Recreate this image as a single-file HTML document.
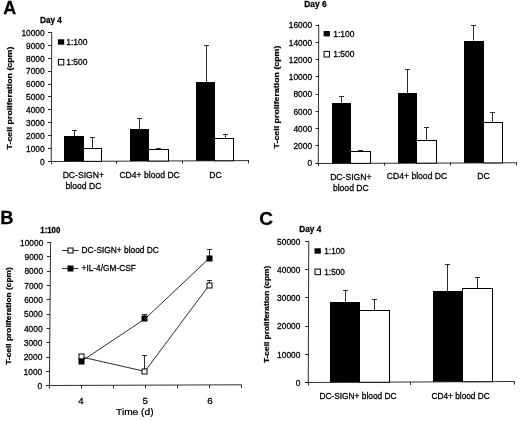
<!DOCTYPE html>
<html><head><meta charset="utf-8"><title>Figure</title>
<style>html,body{margin:0;padding:0;background:#fff;}body{width:520px;height:421px;overflow:hidden;}svg{display:block;font-family:"Liberation Sans",sans-serif;filter:blur(0.35px);}text{fill:#000;stroke:#000;stroke-width:0.26px;}line,polyline{stroke:#161616;stroke-width:0.9px;}</style></head><body>
<svg width="520" height="421" viewBox="0 0 520 421">
<rect x="0" y="0" width="520" height="421" fill="#fff"/>
<text transform="translate(3.3 13.7) scale(0.97 1)" font-size="18.5" font-weight="bold">A</text>
<text transform="translate(0.3 224.1) scale(1.04 1)" font-size="17.6" font-weight="bold">B</text>
<text transform="translate(259.2 224.7)" font-size="19" font-weight="bold">C</text>
<text font-size="8.2" font-weight="bold" text-anchor="start" transform="translate(40 22.5) scale(1 1.06)">Day 4</text>
<line x1="51.75" y1="32.00" x2="51.25" y2="161.80" stroke="#000" stroke-width="1"/>
<line x1="48.00" y1="161.50" x2="249.00" y2="160.60" stroke="#000" stroke-width="1"/>
<line x1="48.0" y1="161.5" x2="51.3" y2="161.5" stroke="#000" stroke-width="1"/>
<text font-size="8.4" text-anchor="end" transform="translate(44.7 164.62) scale(1 1.06)">0</text>
<line x1="48.0" y1="148.5" x2="51.3" y2="148.5" stroke="#000" stroke-width="1"/>
<text font-size="8.4" text-anchor="end" transform="translate(44.7 151.74) scale(1 1.06)">1000</text>
<line x1="48.0" y1="135.5" x2="51.3" y2="135.5" stroke="#000" stroke-width="1"/>
<text font-size="8.4" text-anchor="end" transform="translate(44.7 138.86) scale(1 1.06)">2000</text>
<line x1="48.0" y1="122.5" x2="51.3" y2="122.5" stroke="#000" stroke-width="1"/>
<text font-size="8.4" text-anchor="end" transform="translate(44.7 125.98) scale(1 1.06)">3000</text>
<line x1="48.0" y1="109.5" x2="51.3" y2="109.5" stroke="#000" stroke-width="1"/>
<text font-size="8.4" text-anchor="end" transform="translate(44.7 113.1) scale(1 1.06)">4000</text>
<line x1="48.0" y1="96.5" x2="51.3" y2="96.5" stroke="#000" stroke-width="1"/>
<text font-size="8.4" text-anchor="end" transform="translate(44.7 100.22) scale(1 1.06)">5000</text>
<line x1="48.0" y1="84.5" x2="51.3" y2="84.5" stroke="#000" stroke-width="1"/>
<text font-size="8.4" text-anchor="end" transform="translate(44.7 87.34) scale(1 1.06)">6000</text>
<line x1="48.0" y1="71.5" x2="51.3" y2="71.5" stroke="#000" stroke-width="1"/>
<text font-size="8.4" text-anchor="end" transform="translate(44.7 74.46) scale(1 1.06)">7000</text>
<line x1="48.0" y1="58.5" x2="51.3" y2="58.5" stroke="#000" stroke-width="1"/>
<text font-size="8.4" text-anchor="end" transform="translate(44.7 61.58) scale(1 1.06)">8000</text>
<line x1="48.0" y1="45.5" x2="51.3" y2="45.5" stroke="#000" stroke-width="1"/>
<text font-size="8.4" text-anchor="end" transform="translate(44.7 48.7) scale(1 1.06)">9000</text>
<line x1="48.0" y1="32.5" x2="51.3" y2="32.5" stroke="#000" stroke-width="1"/>
<text font-size="8.4" text-anchor="end" transform="translate(44.7 35.82) scale(1 1.06)">10000</text>
<line x1="51.5" y1="161.3" x2="51.5" y2="164.3" stroke="#000" stroke-width="1"/>
<line x1="116.5" y1="161.0" x2="116.5" y2="164.0" stroke="#000" stroke-width="1"/>
<line x1="182.5" y1="160.7" x2="182.5" y2="163.7" stroke="#000" stroke-width="1"/>
<line x1="248.5" y1="160.4" x2="248.5" y2="163.4" stroke="#000" stroke-width="1"/>
<line x1="74.5" y1="130.39" x2="74.5" y2="136.06" stroke="#000" stroke-width="1"/>
<line x1="72.0" y1="130.5" x2="77.0" y2="130.5" stroke="#000" stroke-width="1"/>
<line x1="92.5" y1="137.47" x2="92.5" y2="148.42" stroke="#000" stroke-width="1"/>
<line x1="90.0" y1="137.5" x2="95.0" y2="137.5" stroke="#000" stroke-width="1"/>
<rect x="64" y="136" width="20" height="25.36" fill="#000"/>
<rect x="83.5" y="148.5" width="18" height="12.86" fill="#fff" stroke="#000" stroke-width="1"/>
<line x1="139.5" y1="118.41" x2="139.5" y2="129.1" stroke="#000" stroke-width="1"/>
<line x1="137.0" y1="118.5" x2="142.0" y2="118.5" stroke="#000" stroke-width="1"/>
<line x1="158.5" y1="148.55" x2="158.5" y2="149.45" stroke="#000" stroke-width="1"/>
<line x1="156.0" y1="148.5" x2="161.0" y2="148.5" stroke="#000" stroke-width="1"/>
<rect x="130" y="129" width="19" height="32.05" fill="#000"/>
<rect x="148.5" y="149.5" width="20" height="11.55" fill="#fff" stroke="#000" stroke-width="1"/>
<line x1="206.5" y1="45.9" x2="206.5" y2="82.35" stroke="#000" stroke-width="1"/>
<line x1="204.0" y1="45.5" x2="209.0" y2="45.5" stroke="#000" stroke-width="1"/>
<line x1="225.5" y1="134.9" x2="225.5" y2="138.12" stroke="#000" stroke-width="1"/>
<line x1="223.0" y1="134.5" x2="228.0" y2="134.5" stroke="#000" stroke-width="1"/>
<rect x="196" y="82" width="19" height="78.75" fill="#000"/>
<rect x="214.5" y="138.5" width="19" height="22.25" fill="#fff" stroke="#000" stroke-width="1"/>
<rect x="57.9" y="39.30" width="6.3" height="5.4" fill="#000"/>
<text font-size="8.5" text-anchor="start" transform="translate(66.2 45.23) scale(1 1.06)">1:100</text>
<rect x="58.40" y="59.40" width="5.4" height="5.6" fill="#fff" stroke="#000" stroke-width="1"/>
<text font-size="8.5" text-anchor="start" transform="translate(66.2 65.43) scale(1 1.06)">1:500</text>
<text font-size="8.6" text-anchor="middle" transform="translate(83.3 177.9) scale(1 1.06)">DC-SIGN+</text>
<text font-size="8.6" text-anchor="middle" transform="translate(83.5 189.3) scale(1 1.06)">blood DC</text>
<text font-size="8.6" text-anchor="middle" transform="translate(149.6 177.9) scale(1 1.06)">CD4+ blood DC</text>
<text font-size="8.6" text-anchor="middle" transform="translate(215.4 177.9) scale(1 1.06)">DC</text>
<text font-size="8.82" font-weight="bold" text-anchor="middle" transform="translate(11.9 98) rotate(-90) scale(1 0.88)">T-cell proliferation (cpm)</text>
<text font-size="8.4" font-weight="bold" text-anchor="start" transform="translate(304.3 7.4) scale(1 1.06)">Day 6</text>
<line x1="318.75" y1="24.50" x2="318.25" y2="163.50" stroke="#000" stroke-width="1"/>
<line x1="315.60" y1="163.50" x2="517.00" y2="162.80" stroke="#000" stroke-width="1"/>
<line x1="315.6" y1="163.5" x2="318.9" y2="163.5" stroke="#000" stroke-width="1"/>
<text font-size="8.4" text-anchor="end" transform="translate(312.1 166.32) scale(1 1.06)">0</text>
<line x1="315.6" y1="145.5" x2="318.9" y2="145.5" stroke="#000" stroke-width="1"/>
<text font-size="8.4" text-anchor="end" transform="translate(312.1 149.07) scale(1 1.06)">2000</text>
<line x1="315.6" y1="128.5" x2="318.9" y2="128.5" stroke="#000" stroke-width="1"/>
<text font-size="8.4" text-anchor="end" transform="translate(312.1 131.82) scale(1 1.06)">4000</text>
<line x1="315.6" y1="111.5" x2="318.9" y2="111.5" stroke="#000" stroke-width="1"/>
<text font-size="8.4" text-anchor="end" transform="translate(312.1 114.57) scale(1 1.06)">6000</text>
<line x1="315.6" y1="94.5" x2="318.9" y2="94.5" stroke="#000" stroke-width="1"/>
<text font-size="8.4" text-anchor="end" transform="translate(312.1 97.32) scale(1 1.06)">8000</text>
<line x1="315.6" y1="76.5" x2="318.9" y2="76.5" stroke="#000" stroke-width="1"/>
<text font-size="8.4" text-anchor="end" transform="translate(312.1 80.07) scale(1 1.06)">10000</text>
<line x1="315.6" y1="59.5" x2="318.9" y2="59.5" stroke="#000" stroke-width="1"/>
<text font-size="8.4" text-anchor="end" transform="translate(312.1 62.82) scale(1 1.06)">12000</text>
<line x1="315.6" y1="42.5" x2="318.9" y2="42.5" stroke="#000" stroke-width="1"/>
<text font-size="8.4" text-anchor="end" transform="translate(312.1 45.57) scale(1 1.06)">14000</text>
<line x1="315.6" y1="25.5" x2="318.9" y2="25.5" stroke="#000" stroke-width="1"/>
<text font-size="8.4" text-anchor="end" transform="translate(312.1 28.32) scale(1 1.06)">16000</text>
<line x1="318.5" y1="163.0" x2="318.5" y2="166.0" stroke="#000" stroke-width="1"/>
<line x1="384.5" y1="162.77" x2="384.5" y2="165.77" stroke="#000" stroke-width="1"/>
<line x1="450.5" y1="162.54" x2="450.5" y2="165.54" stroke="#000" stroke-width="1"/>
<line x1="516.5" y1="162.3" x2="516.5" y2="165.3" stroke="#000" stroke-width="1"/>
<line x1="341.5" y1="96.16" x2="341.5" y2="102.62" stroke="#000" stroke-width="1"/>
<line x1="339.0" y1="96.5" x2="344.0" y2="96.5" stroke="#000" stroke-width="1"/>
<line x1="360.5" y1="150.75" x2="360.5" y2="151.79" stroke="#000" stroke-width="1"/>
<line x1="358.0" y1="150.5" x2="363.0" y2="150.5" stroke="#000" stroke-width="1"/>
<rect x="332" y="103" width="19" height="60.38" fill="#000"/>
<rect x="350.5" y="151.5" width="20" height="11.88" fill="#fff" stroke="#000" stroke-width="1"/>
<line x1="407.5" y1="69.25" x2="407.5" y2="93.14" stroke="#000" stroke-width="1"/>
<line x1="405.0" y1="69.5" x2="410.0" y2="69.5" stroke="#000" stroke-width="1"/>
<line x1="426.5" y1="127.64" x2="426.5" y2="140.32" stroke="#000" stroke-width="1"/>
<line x1="424.0" y1="127.5" x2="429.0" y2="127.5" stroke="#000" stroke-width="1"/>
<rect x="398" y="93" width="19" height="70.15" fill="#000"/>
<rect x="416.5" y="140.5" width="20" height="22.65" fill="#fff" stroke="#000" stroke-width="1"/>
<line x1="473.5" y1="25.43" x2="473.5" y2="40.52" stroke="#000" stroke-width="1"/>
<line x1="471.0" y1="25.5" x2="476.0" y2="25.5" stroke="#000" stroke-width="1"/>
<line x1="492.5" y1="112.89" x2="492.5" y2="122.12" stroke="#000" stroke-width="1"/>
<line x1="490.0" y1="112.5" x2="495.0" y2="112.5" stroke="#000" stroke-width="1"/>
<rect x="464" y="41" width="20" height="121.92" fill="#000"/>
<rect x="483.5" y="122.5" width="19" height="40.42" fill="#fff" stroke="#000" stroke-width="1"/>
<rect x="323.6" y="31.00" width="6.3" height="5.4" fill="#000"/>
<text font-size="8.5" text-anchor="start" transform="translate(333.2 36.93) scale(1 1.06)">1:100</text>
<rect x="324.10" y="51.40" width="5.4" height="5.6" fill="#fff" stroke="#000" stroke-width="1"/>
<text font-size="8.5" text-anchor="start" transform="translate(333.2 57.43) scale(1 1.06)">1:500</text>
<text font-size="8.6" text-anchor="middle" transform="translate(350.8 180) scale(1 1.06)">DC-SIGN+</text>
<text font-size="8.6" text-anchor="middle" transform="translate(350.8 191.1) scale(1 1.06)">blood DC</text>
<text font-size="8.6" text-anchor="middle" transform="translate(417 178.8) scale(1 1.06)">CD4+ blood DC</text>
<text font-size="8.6" text-anchor="middle" transform="translate(483.5 178.7) scale(1 1.06)">DC</text>
<text font-size="8.82" font-weight="bold" text-anchor="middle" transform="translate(278.7 97) rotate(-90) scale(1 0.88)">T-cell proliferation (cpm)</text>
<text font-size="8.25" font-weight="bold" text-anchor="start" transform="translate(299.3 232.4) scale(1 1.06)">Day 4</text>
<line x1="308.75" y1="240.90" x2="308.25" y2="383.00" stroke="#000" stroke-width="1"/>
<line x1="305.10" y1="382.50" x2="514.50" y2="381.50" stroke="#000" stroke-width="1"/>
<line x1="305.1" y1="382.5" x2="308.4" y2="382.5" stroke="#000" stroke-width="1"/>
<text font-size="8.4" text-anchor="end" transform="translate(300.4 385.82) scale(1 1.06)">0</text>
<line x1="305.1" y1="354.5" x2="308.4" y2="354.5" stroke="#000" stroke-width="1"/>
<text font-size="8.4" text-anchor="end" transform="translate(300.4 357.6) scale(1 1.06)">10000</text>
<line x1="305.1" y1="326.5" x2="308.4" y2="326.5" stroke="#000" stroke-width="1"/>
<text font-size="8.4" text-anchor="end" transform="translate(300.4 329.38) scale(1 1.06)">20000</text>
<line x1="305.1" y1="297.5" x2="308.4" y2="297.5" stroke="#000" stroke-width="1"/>
<text font-size="8.4" text-anchor="end" transform="translate(300.4 301.16) scale(1 1.06)">30000</text>
<line x1="305.1" y1="269.5" x2="308.4" y2="269.5" stroke="#000" stroke-width="1"/>
<text font-size="8.4" text-anchor="end" transform="translate(300.4 272.94) scale(1 1.06)">40000</text>
<line x1="305.1" y1="241.5" x2="308.4" y2="241.5" stroke="#000" stroke-width="1"/>
<text font-size="8.4" text-anchor="end" transform="translate(300.4 244.72) scale(1 1.06)">50000</text>
<line x1="308.5" y1="382.5" x2="308.5" y2="385.5" stroke="#000" stroke-width="1"/>
<line x1="410.5" y1="382.0" x2="410.5" y2="385.0" stroke="#000" stroke-width="1"/>
<line x1="514.5" y1="381.5" x2="514.5" y2="384.5" stroke="#000" stroke-width="1"/>
<line x1="345.5" y1="290.5" x2="345.5" y2="302.07" stroke="#000" stroke-width="1"/>
<line x1="343.0" y1="290.5" x2="348.0" y2="290.5" stroke="#000" stroke-width="1"/>
<line x1="374.5" y1="299.53" x2="374.5" y2="310.68" stroke="#000" stroke-width="1"/>
<line x1="372.0" y1="299.5" x2="377.0" y2="299.5" stroke="#000" stroke-width="1"/>
<rect x="330" y="302" width="30" height="80.25" fill="#000"/>
<rect x="359.5" y="310.5" width="30" height="71.75" fill="#fff" stroke="#000" stroke-width="1"/>
<line x1="447.5" y1="264.26" x2="447.5" y2="291.07" stroke="#000" stroke-width="1"/>
<line x1="445.0" y1="264.5" x2="450.0" y2="264.5" stroke="#000" stroke-width="1"/>
<line x1="477.5" y1="277.94" x2="477.5" y2="288.25" stroke="#000" stroke-width="1"/>
<line x1="475.0" y1="277.5" x2="480.0" y2="277.5" stroke="#000" stroke-width="1"/>
<rect x="433" y="291" width="30" height="90.75" fill="#000"/>
<rect x="462.5" y="288.5" width="30" height="93.25" fill="#fff" stroke="#000" stroke-width="1"/>
<rect x="314.5" y="248.30" width="6.3" height="5.4" fill="#000"/>
<text font-size="8.2" text-anchor="start" transform="translate(324.3 254.12) scale(1 1.06)">1:100</text>
<rect x="315.00" y="269.10" width="5.4" height="5.6" fill="#fff" stroke="#000" stroke-width="1"/>
<text font-size="8.2" text-anchor="start" transform="translate(324.3 275.02) scale(1 1.06)">1:500</text>
<text font-size="8.35" text-anchor="middle" transform="translate(358 399.3) scale(1 1.06)">DC-SIGN+ blood DC</text>
<text font-size="8.3" text-anchor="middle" transform="translate(460.6 398.9) scale(1 1.06)">CD4+ blood DC</text>
<text font-size="8.35" font-weight="bold" text-anchor="middle" transform="translate(268.6 314.4) rotate(-90) scale(1 0.88)">T-cell proliferation (cpm)</text>
<text transform="translate(40.3 232.6) scale(0.93 1)" font-size="8.4" font-weight="bold">1:100</text>
<line x1="50.6" y1="242.0" x2="49.4" y2="388.7" stroke="#000" stroke-width="1"/>
<line x1="46.0" y1="385.5" x2="241.8" y2="384.8" stroke="#000" stroke-width="1"/>
<line x1="46.0" y1="385.5" x2="49.4" y2="385.5" stroke="#000" stroke-width="1"/>
<text font-size="8.4" text-anchor="end" transform="translate(42.1 389.02) scale(1 1.06)">0</text>
<line x1="46.12" y1="371.5" x2="49.52" y2="371.5" stroke="#000" stroke-width="1"/>
<text font-size="8.4" text-anchor="end" transform="translate(42.22 374.7) scale(1 1.06)">1000</text>
<line x1="46.24" y1="357.5" x2="49.64" y2="357.5" stroke="#000" stroke-width="1"/>
<text font-size="8.4" text-anchor="end" transform="translate(42.34 360.38) scale(1 1.06)">2000</text>
<line x1="46.36" y1="342.5" x2="49.76" y2="342.5" stroke="#000" stroke-width="1"/>
<text font-size="8.4" text-anchor="end" transform="translate(42.46 346.06) scale(1 1.06)">3000</text>
<line x1="46.48" y1="328.5" x2="49.88" y2="328.5" stroke="#000" stroke-width="1"/>
<text font-size="8.4" text-anchor="end" transform="translate(42.58 331.74) scale(1 1.06)">4000</text>
<line x1="46.6" y1="314.5" x2="50.0" y2="314.5" stroke="#000" stroke-width="1"/>
<text font-size="8.4" text-anchor="end" transform="translate(42.7 317.42) scale(1 1.06)">5000</text>
<line x1="46.72" y1="299.5" x2="50.12" y2="299.5" stroke="#000" stroke-width="1"/>
<text font-size="8.4" text-anchor="end" transform="translate(42.82 303.1) scale(1 1.06)">6000</text>
<line x1="46.84" y1="285.5" x2="50.24" y2="285.5" stroke="#000" stroke-width="1"/>
<text font-size="8.4" text-anchor="end" transform="translate(42.94 288.78) scale(1 1.06)">7000</text>
<line x1="46.96" y1="271.5" x2="50.36" y2="271.5" stroke="#000" stroke-width="1"/>
<text font-size="8.4" text-anchor="end" transform="translate(43.06 274.46) scale(1 1.06)">8000</text>
<line x1="47.08" y1="256.5" x2="50.48" y2="256.5" stroke="#000" stroke-width="1"/>
<text font-size="8.4" text-anchor="end" transform="translate(43.18 260.14) scale(1 1.06)">9000</text>
<line x1="47.2" y1="242.5" x2="50.6" y2="242.5" stroke="#000" stroke-width="1"/>
<text font-size="8.4" text-anchor="end" transform="translate(43.3 245.82) scale(1 1.06)">10000</text>
<line x1="81.5" y1="385.58" x2="81.5" y2="388.58" stroke="#000" stroke-width="1"/>
<line x1="113.5" y1="385.47" x2="113.5" y2="388.47" stroke="#000" stroke-width="1"/>
<line x1="145.5" y1="385.35" x2="145.5" y2="388.35" stroke="#000" stroke-width="1"/>
<line x1="177.5" y1="385.23" x2="177.5" y2="388.23" stroke="#000" stroke-width="1"/>
<line x1="209.5" y1="385.12" x2="209.5" y2="388.12" stroke="#000" stroke-width="1"/>
<line x1="241.5" y1="385.0" x2="241.5" y2="388.0" stroke="#000" stroke-width="1"/>
<polyline fill="none" stroke="#000" stroke-width="1.1" points="81.2,356.92 144.9,371.38 209.3,285.03"/>
<polyline fill="none" stroke="#000" stroke-width="1.1" points="81.2,361.36 144.9,318.97 209.3,258.25"/>
<line x1="144.5" y1="355.91" x2="144.5" y2="371.38" stroke="#000" stroke-width="1"/>
<line x1="142.0" y1="355.5" x2="147.0" y2="355.5" stroke="#000" stroke-width="1"/>
<line x1="209.5" y1="280.3" x2="209.5" y2="285.03" stroke="#000" stroke-width="1"/>
<line x1="207.0" y1="280.5" x2="212.0" y2="280.5" stroke="#000" stroke-width="1"/>
<line x1="144.5" y1="314.82" x2="144.5" y2="318.97" stroke="#000" stroke-width="1"/>
<line x1="142.0" y1="314.5" x2="147.0" y2="314.5" stroke="#000" stroke-width="1"/>
<line x1="209.5" y1="249.37" x2="209.5" y2="258.25" stroke="#000" stroke-width="1"/>
<line x1="207.0" y1="249.5" x2="212.0" y2="249.5" stroke="#000" stroke-width="1"/>
<rect x="79.0" y="354.0" width="5" height="5" fill="#fff" stroke="#000" stroke-width="1"/>
<rect x="142.0" y="369.0" width="5" height="5" fill="#fff" stroke="#000" stroke-width="1"/>
<rect x="207.0" y="283.0" width="5" height="5" fill="#fff" stroke="#000" stroke-width="1"/>
<rect x="78.5" y="358.5" width="6" height="6" fill="#000"/>
<rect x="141.5" y="315.5" width="6" height="6" fill="#000"/>
<rect x="206.5" y="255.5" width="6" height="6" fill="#000"/>
<line x1="62" y1="250.5" x2="78.5" y2="250.5" stroke="#000" stroke-width="1"/>
<rect x="68.0" y="248.0" width="5" height="5" fill="#fff" stroke="#000" stroke-width="1"/>
<text font-size="8.35" text-anchor="start" transform="translate(81.6 252.8) scale(1 1.06)">DC-SIGN+ blood DC</text>
<line x1="62" y1="268.5" x2="78.5" y2="268.5" stroke="#000" stroke-width="1"/>
<rect x="67.5" y="265.5" width="6" height="6" fill="#000"/>
<text font-size="8.3" text-anchor="start" transform="translate(81.6 271.3) scale(1 1.06)">+IL-4/GM-CSF</text>
<text font-size="9.7" text-anchor="middle" transform="translate(80.9 404) scale(1 1.0)">4</text>
<text font-size="9.7" text-anchor="middle" transform="translate(145.1 404) scale(1 1.0)">5</text>
<text font-size="9.7" text-anchor="middle" transform="translate(210 404) scale(1 1.0)">6</text>
<text font-size="10.2" text-anchor="middle" transform="translate(134.8 414.7) scale(1 0.93)">Time (d)</text>
<text font-size="8.35" font-weight="bold" text-anchor="middle" transform="translate(11.4 316) rotate(-90) scale(1 0.88)">T-cell proliferation (cpm)</text>
</svg></body></html>
